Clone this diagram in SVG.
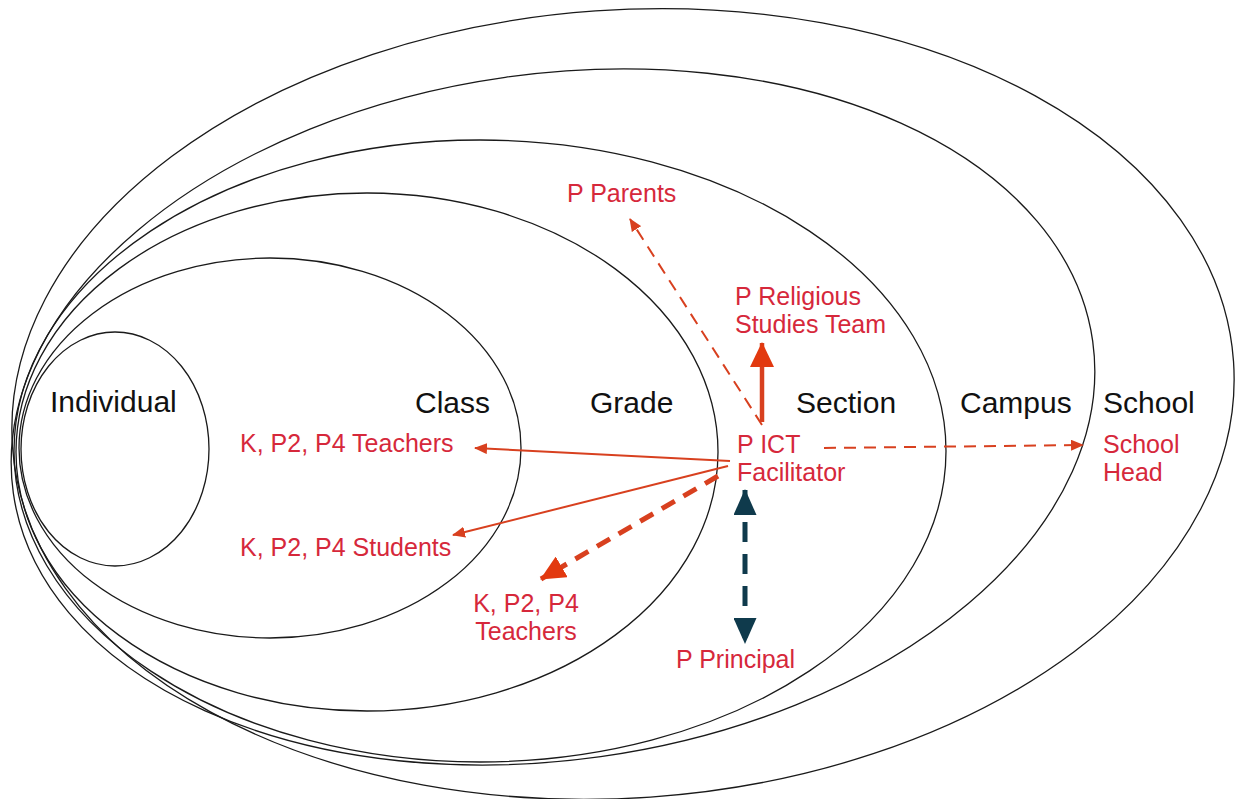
<svg xmlns="http://www.w3.org/2000/svg" width="1236" height="799" viewBox="0 0 1236 799">
<style>
.ring{fill:none;stroke:#1a1a1a;stroke-width:1.3}
.lbl{font-family:"Liberation Sans",Arial,sans-serif;font-size:30px;fill:#111}
.rt{font-family:"Liberation Sans",Arial,sans-serif;font-size:25px;fill:#d6283b}
.ar{fill:none;stroke:#d8401f}
.thin{stroke-width:2}
.dash{stroke-dasharray:12 8}
.thick{stroke-width:4.5}
.tdash{stroke-width:5;stroke-dasharray:15 10}
.teal{fill:none;stroke:#0f3a4c;stroke-width:5;stroke-dasharray:20 12}
</style>
<defs>
<marker id="mThin" viewBox="0 0 13 11" refX="12" refY="5.5" markerWidth="13" markerHeight="11" markerUnits="userSpaceOnUse" orient="auto"><path d="M0,0 L13,5.5 L0,11 z" fill="#d8401f"/></marker>
<marker id="mBig" viewBox="0 0 25 24" refX="24" refY="12" markerWidth="25" markerHeight="24" markerUnits="userSpaceOnUse" orient="auto"><path d="M0,0 L25,12 L0,24 z" fill="#e2390f"/></marker>
<marker id="mTeal" viewBox="0 0 26 23" refX="25" refY="11.5" markerWidth="26" markerHeight="23" markerUnits="userSpaceOnUse" orient="auto-start-reverse"><path d="M0,0 L26,11.5 L0,23 z" fill="#0f3a4c"/></marker>
</defs>

<g id="school"><ellipse class="ring" cx="623" cy="404" rx="612" ry="394" transform="rotate(-4 623 404)"/><text class="lbl" x="1103" y="413">School</text></g>
<g id="campus"><ellipse class="ring" cx="553" cy="417" rx="545" ry="343" transform="rotate(-8 553 417)"/><text class="lbl" x="960" y="413">Campus</text></g>
<g id="section"><ellipse class="ring" cx="480" cy="451" rx="466" ry="311"/><text class="lbl" x="796" y="413">Section</text></g>
<g id="grade"><ellipse class="ring" cx="367" cy="452" rx="351" ry="259"/><text class="lbl" x="590" y="413">Grade</text></g>
<g id="class"><ellipse class="ring" cx="270" cy="448" rx="251" ry="190"/><text class="lbl" x="415" y="413">Class</text></g>
<g id="individual"><ellipse class="ring" cx="115" cy="449" rx="94" ry="117"/><text class="lbl" x="50" y="412">Individual</text></g>

<g id="connectors">
<path class="ar thin dash" d="M762,425 L630,219" marker-end="url(#mThin)"/>
<path class="ar thick" d="M762,422 L762,343" marker-end="url(#mBig)"/>
<path class="ar thin" d="M730,461 L475,448" marker-end="url(#mThin)"/>
<path class="ar thin" d="M728,466 L453,535" marker-end="url(#mThin)"/>
<path class="ar tdash" d="M718,476 L541,579" marker-end="url(#mBig)"/>
<path class="ar thin dash" d="M824,448 L1083,445" marker-end="url(#mThin)"/>
<path class="teal" d="M745,490 L745,643" marker-start="url(#mTeal)" marker-end="url(#mTeal)"/>
</g>

<g id="p-parents"><text class="rt" x="567" y="202">P Parents</text></g>
<g id="p-religious"><text class="rt" x="735" y="305">P Religious</text><text class="rt" x="735" y="333">Studies Team</text></g>
<g id="class-teachers"><text class="rt" x="240" y="452">K, P2, P4 Teachers</text></g>
<g id="class-students"><text class="rt" x="240" y="556">K, P2, P4 Students</text></g>
<g id="grade-teachers"><text class="rt" x="526" y="612" text-anchor="middle">K, P2, P4</text><text class="rt" x="526" y="640" text-anchor="middle">Teachers</text></g>
<g id="p-ict"><text class="rt" x="737" y="453">P ICT</text><text class="rt" x="737" y="481">Facilitator</text></g>
<g id="school-head"><text class="rt" x="1103" y="453">School</text><text class="rt" x="1103" y="481">Head</text></g>
<g id="p-principal"><text class="rt" x="676" y="668">P Principal</text></g>
</svg>
